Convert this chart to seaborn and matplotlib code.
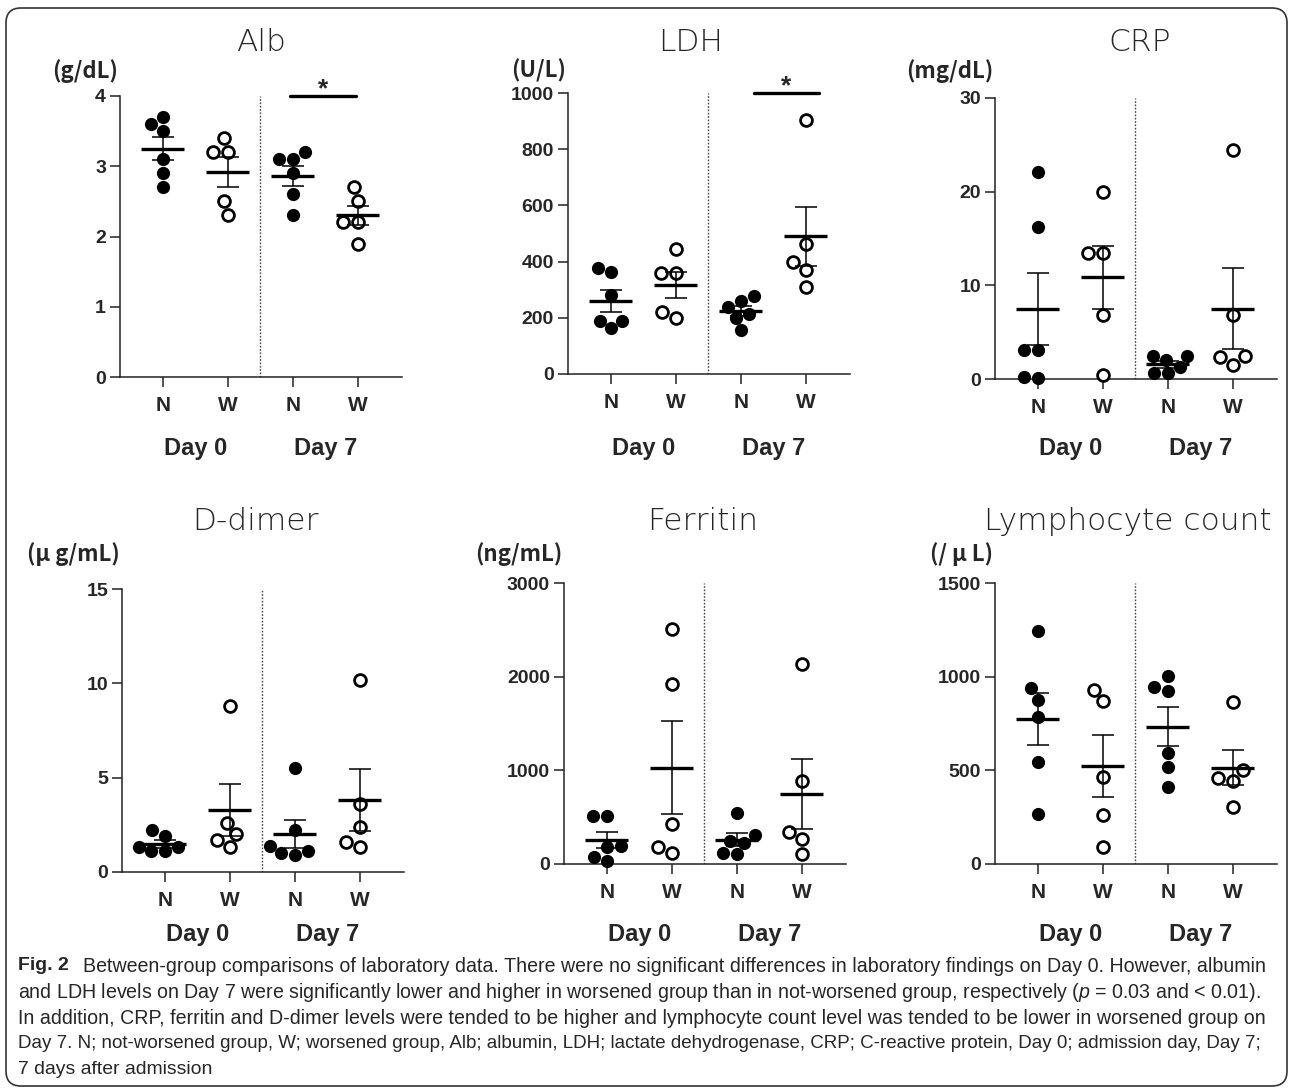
# Between-group comparisons of laboratory data (scatter + mean/SEM)
import matplotlib
matplotlib.use("Agg")
import matplotlib.pyplot as plt
import seaborn as sns
import numpy as np
import pandas as pd
from matplotlib.patches import FancyBboxPatch

# ---- data ----
group_order = ["N0", "W0", "N7", "W7"]
tick_labels = ["N", "W", "N", "W"]
day_labels = ["Day 0", "Day 7"]

alb_n0 = [3.6, 3.7, 3.5, 3.1, 2.9, 2.7]
alb_w0 = [3.4, 3.2, 3.2, 2.5, 2.3]
alb_n7 = [3.2, 3.1, 3.1, 2.9, 2.6, 2.3]
alb_w7 = [2.7, 2.5, 2.2, 2.2, 1.9]

ldh_n0 = [362, 376, 281, 163, 190, 190]
ldh_w0 = [445, 359, 359, 201, 220]
ldh_n7 = [276, 240, 261, 201, 213, 157]
ldh_w7 = [903, 463, 400, 371, 311]

crp_n0 = [22.1, 16.2, 3.1, 3.1, 0.1, 0.2]
crp_w0 = [20.0, 13.5, 13.5, 6.8, 0.4]
crp_n7 = [2.0, 2.5, 2.5, 1.3, 0.6, 0.6]
crp_w7 = [24.5, 6.8, 2.5, 2.3, 1.5]

dd_n0 = [1.9, 2.2, 1.1, 1.3, 1.1, 1.3]
dd_w0 = [8.8, 2.6, 2.0, 1.3, 1.7]
dd_n7 = [5.5, 2.2, 1.4, 0.9, 1.0, 1.1]
dd_w7 = [10.2, 3.6, 2.4, 1.3, 1.6]

fer_n0 = [513, 513, 185, 192, 32, 78]
fer_w0 = [2508, 1920, 424, 114, 178]
fer_n7 = [549, 310, 228, 246, 107, 121]
fer_w7 = [2134, 891, 346, 267, 107]

lym_n0 = [1245, 939, 877, 784, 543, 265]
lym_w0 = [930, 868, 467, 262, 89]
lym_n7 = [944, 1001, 925, 591, 517, 413]
lym_w7 = [864, 502, 445, 458, 303]

titles = ["Alb", "LDH", "CRP", "D-dimer", "Ferritin", "Lymphocyte count"]
units = ["(g/dL)", "(U/L)", "(mg/dL)", "(μ g/mL)", "(ng/mL)", "(/ μ L)"]
yticks = [[0, 1, 2, 3, 4], [0, 200, 400, 600, 800, 1000], [0, 10, 20, 30],
          [0, 5, 10, 15], [0, 1000, 2000, 3000], [0, 500, 1000, 1500]]
values = [
    [alb_n0, alb_w0, alb_n7, alb_w7],
    [ldh_n0, ldh_w0, ldh_n7, ldh_w7],
    [crp_n0, crp_w0, crp_n7, crp_w7],
    [dd_n0, dd_w0, dd_n7, dd_w7],
    [fer_n0, fer_w0, fer_n7, fer_w7],
    [lym_n0, lym_w0, lym_n7, lym_w7],
]
# significance bars (panel index -> x start, x end)
signif = {0: (1.95, 2.97), 1: (2.2, 3.2)}

caption = [
    "Between-group comparisons of laboratory data. There were no significant differences in laboratory findings on Day 0. However, albumin",
    "and LDH levels on Day 7 were significantly lower and higher in worsened group than in not-worsened group, respectively ($p$ = 0.03 and < 0.01).",
    "In addition, CRP, ferritin and D-dimer levels were tended to be higher and lymphocyte count level was tended to be lower in worsened group on",
    "Day 7. N; not-worsened group, W; worsened group, Alb; albumin, LDH; lactate dehydrogenase, CRP; C-reactive protein, Day 0; admission day, Day 7;",
    "7 days after admission",
]

# ---- layout (pixels: left, top, right, bottom) ----
W, H = 1292, 1092
boxes = [(120, 96, 402, 377), (568, 93, 850, 374), (995, 98, 1277, 379),
         (122, 589, 404, 872), (564, 583, 846, 864), (995, 583, 1277, 864)]
title_dx = [0, -18, 4, -8, -2, -8]
cap_x = [83, 18, 18, 18, 18]
cap_right = [1268, 1262, 1265, 1272, None]
cap_y = [966, 992, 1018, 1044, 1070]

sns.set_style("ticks")
plt.rcParams["font.family"] = ["Liberation Sans", "DejaVu Sans"]
plt.rcParams["mathtext.fontset"] = "custom"
plt.rcParams["mathtext.it"] = "Liberation Sans:italic"
plt.rcParams["mathtext.rm"] = "Liberation Sans"

fig = plt.figure(figsize=(W / 100, H / 100), dpi=100)
fig.patch.set_facecolor("white")

for i, (l, t, r, b) in enumerate(boxes):
    ax = fig.add_axes([l / W, 1 - b / H, (r - l) / W, (b - t) / H])
    ax.set_facecolor("white")

    rows = []
    for g, vals in zip(group_order, values[i]):
        for v in vals:
            rows.append({"group": g, "value": v})
    df = pd.DataFrame(rows)
    n_df = df[df["group"].str.startswith("N")]
    w_df = df[df["group"].str.startswith("W")]

    sns.swarmplot(data=n_df, x="group", y="value", order=group_order,
                  color="black", size=9.5, linewidth=0, ax=ax,
                  clip_on=False, zorder=3)
    sns.swarmplot(data=w_df, x="group", y="value", order=group_order,
                  color="white", edgecolor="black", size=8.5, linewidth=2.0,
                  ax=ax, clip_on=False, zorder=3)

    stats = df.groupby("group")["value"].agg(["mean", "sem"]).reindex(group_order)
    xs = np.arange(len(group_order))
    ax.hlines(stats["mean"], xs - 0.33, xs + 0.33, color="black", lw=2.4, zorder=4)
    ax.errorbar(xs, stats["mean"], yerr=stats["sem"], fmt="none", ecolor="black",
                elinewidth=1.1, capsize=8, capthick=1.1, zorder=4)

    ax.axvline(1.5, ymin=0, ymax=1, color="#444444", lw=1.0, ls=(0, (1.2, 1.2)))

    ymax = yticks[i][-1]
    ax.set_xlim(-0.66, 3.68)
    ax.set_ylim(0, ymax)
    ax.set_yticks(yticks[i])
    ax.set_xticks(xs, tick_labels)
    ax.set_xlabel("")
    ax.set_ylabel("")
    for s in ["top", "right"]:
        ax.spines[s].set_visible(False)
    for s in ["left", "bottom"]:
        ax.spines[s].set_linewidth(1.1)
        ax.spines[s].set_color("#222222")
    ax.tick_params(axis="y", length=7, width=1.1, labelsize=14, pad=3, color="#222222")
    ax.tick_params(axis="x", length=7, width=1.1, labelsize=15, pad=7, color="#222222")
    for lab in ax.get_xticklabels() + ax.get_yticklabels():
        lab.set_fontweight("bold")

    day_y = 448 if i < 3 else 935
    for k, day in enumerate(day_labels):
        ax.annotate(day, xy=(0.5 + 2 * k, 1 - day_y / H),
                    xycoords=("data", "figure fraction"), ha="center",
                    va="center", fontsize=17, fontweight="bold")

    if i in signif:
        x0, x1 = signif[i]
        ax.plot([x0, x1], [ymax, ymax], color="black", lw=2.4, clip_on=False)
        ax.annotate("*", xy=((x0 + x1) / 2, ymax), xytext=(0, 5),
                    textcoords="offset points", ha="center", va="center",
                    fontsize=19, fontweight="bold")

    # title and unit
    row_title_y = 51 if i < 3 else 530
    row_unit_y = 71 if i < 3 else 554
    fig.text(((l + r) / 2 + title_dx[i]) / W, 1 - row_title_y / H, titles[i],
             ha="center", va="baseline", fontsize=22.5, family=["DejaVu Sans"],
             fontweight="light")
    fig.text((l - 2) / W, 1 - row_unit_y / H, units[i], ha="right", va="center",
             fontsize=16, fontweight="bold",
             family=["Noto Sans CJK JP", "DejaVu Sans"])

# caption: each line fitted to the width it has in the printed figure
fig.text(18 / W, 1 - cap_y[0] / H, "Fig. 2", ha="left", va="center",
         fontsize=14, fontweight="bold")
cap_texts = []
for k, line in enumerate(caption):
    cap_texts.append(fig.text(cap_x[k] / W, 1 - cap_y[k] / H, line, ha="left",
                              va="center", fontsize=14))
renderer = fig.canvas.get_renderer()
sizes = []
for k, txt in enumerate(cap_texts):
    if cap_right[k] is None:
        continue
    width = txt.get_window_extent(renderer).width
    size = 14 * (cap_right[k] - cap_x[k]) / width
    txt.set_fontsize(size)
    sizes.append(size)
cap_texts[-1].set_fontsize(np.mean(sizes))

# rounded frame
frame = FancyBboxPatch((0.06, 0.06), 12.81, 10.78,
                       boxstyle="round,pad=0,rounding_size=0.15",
                       transform=fig.dpi_scale_trans, fill=False,
                       edgecolor="#333333", lw=1.2)
fig.patches.append(frame)

fig.savefig("out.png", dpi=100)
